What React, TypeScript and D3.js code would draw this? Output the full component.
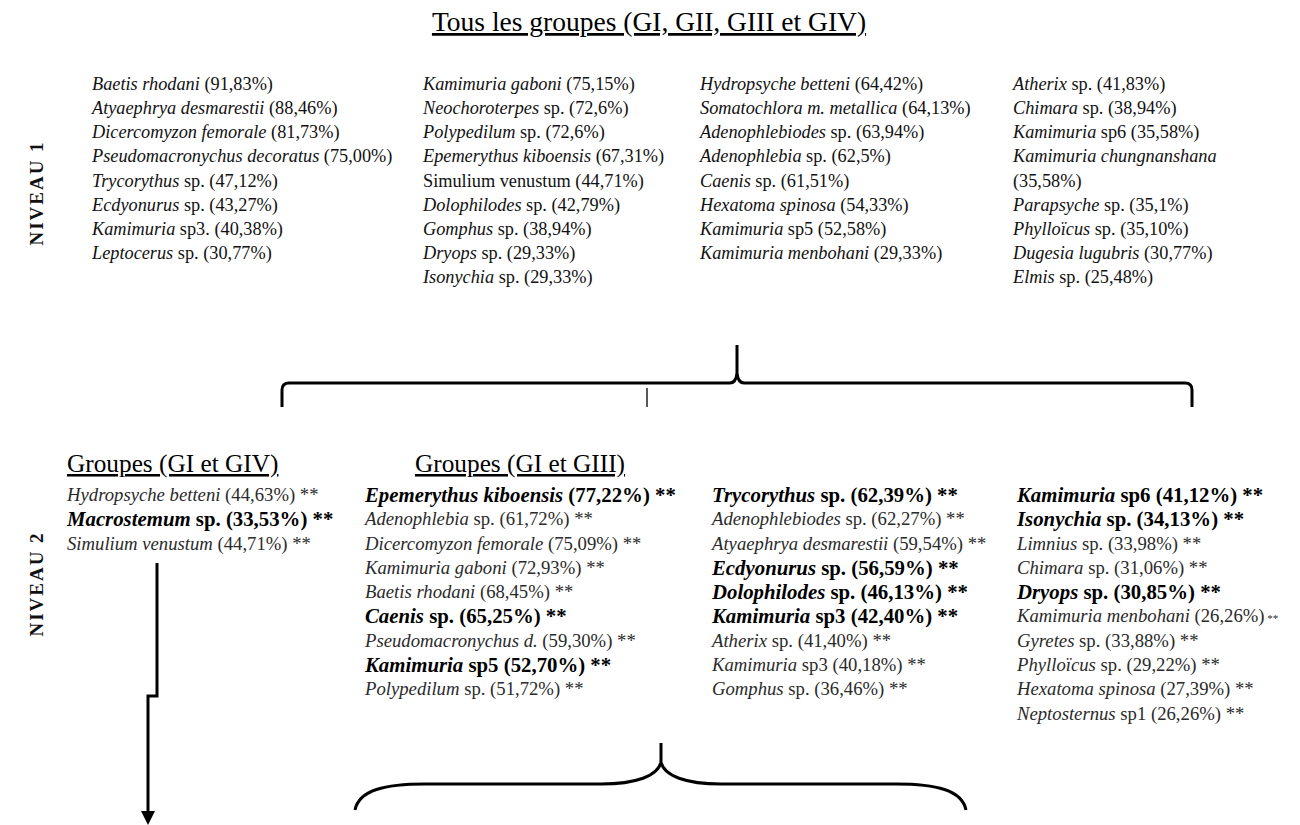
import React from 'react';
import * as d3 from 'd3';

// [italic part, upright part, percent]
const level1Col1 = [
  ['Baetis rhodani', '', '91,83'],
  ['Atyaephrya desmarestii', '', '88,46'],
  ['Dicercomyzon femorale', '', '81,73'],
  ['Pseudomacronychus decoratus', '', '75,00'],
  ['Trycorythus', ' sp.', '47,12'],
  ['Ecdyonurus', ' sp.', '43,27'],
  ['Kamimuria', ' sp3.', '40,38'],
  ['Leptocerus', ' sp.', '30,77'],
];
const level1Col2 = [
  ['Kamimuria gaboni', '', '75,15'],
  ['Neochoroterpes', ' sp.', '72,6'],
  ['Polypedilum', ' sp.', '72,6'],
  ['Epemerythus kiboensis', '', '67,31'],
  ['', 'Simulium venustum', '44,71'],
  ['Dolophilodes', ' sp.', '42,79'],
  ['Gomphus', ' sp.', '38,94'],
  ['Dryops', ' sp.', '29,33'],
  ['Isonychia', ' sp.', '29,33'],
];
const level1Col3 = [
  ['Hydropsyche betteni', '', '64,42'],
  ['Somatochlora m. metallica', '', '64,13'],
  ['Adenophlebiodes', ' sp.', '63,94'],
  ['Adenophlebia', ' sp.', '62,5'],
  ['Caenis', ' sp.', '61,51'],
  ['Hexatoma spinosa', '', '54,33'],
  ['Kamimuria', ' sp5', '52,58'],
  ['Kamimuria menbohani', '', '29,33'],
];
const level1Col4 = [
  ['Atherix', ' sp.', '41,83'],
  ['Chimara', ' sp.', '38,94'],
  ['Kamimuria', ' sp6', '35,58'],
  ['Kamimuria chungnanshana', '', ''],
  ['', '', '35,58'],
  ['Parapsyche', ' sp.', '35,1'],
  ['Phylloïcus', ' sp.', '35,10'],
  ['Dugesia lugubris', '', '30,77'],
  ['Elmis', ' sp.', '25,48'],
];

// [italic part, upright part, percent, bold]
const level2GIGIV = [
  ['Hydropsyche betteni', '', '44,63', false],
  ['Macrostemum', ' sp.', '33,53', true],
  ['Simulium venustum', '', '44,71', false],
];
const level2GIGIII = [
  ['Epemerythus kiboensis', '', '77,22', true],
  ['Adenophlebia', ' sp.', '61,72', false],
  ['Dicercomyzon femorale', '', '75,09', false],
  ['Kamimuria gaboni', '', '72,93', false],
  ['Baetis rhodani', '', '68,45', false],
  ['Caenis', ' sp.', '65,25', true],
  ['Pseudomacronychus d.', '', '59,30', false],
  ['Kamimuria', ' sp5', '52,70', true],
  ['Polypedilum', ' sp.', '51,72', false],
];
const level2Col3 = [
  ['Trycorythus', ' sp.', '62,39', true],
  ['Adenophlebiodes', ' sp.', '62,27', false],
  ['Atyaephrya desmarestii', '', '59,54', false],
  ['Ecdyonurus', ' sp.', '56,59', true],
  ['Dolophilodes', ' sp.', '46,13', true],
  ['Kamimuria', ' sp3', '42,40', true],
  ['Atherix', ' sp.', '41,40', false],
  ['Kamimuria', ' sp3', '40,18', false],
  ['Gomphus', ' sp.', '36,46', false],
];
const level2Col4 = [
  ['Kamimuria', ' sp6', '41,12', true],
  ['Isonychia', ' sp.', '34,13', true],
  ['Limnius', ' sp.', '33,98', false],
  ['Chimara', ' sp.', '31,06', false],
  ['Dryops', ' sp.', '30,85', true],
  ['Kamimuria menbohani', '', '26,26', false],
  ['Gyretes', ' sp.', '33,88', false],
  ['Phylloïcus', ' sp.', '29,22', false],
  ['Hexatoma spinosa', '', '27,39', false],
  ['Neptosternus', ' sp1', '26,26', false],
];

const title = 'Tous les groupes (GI, GII, GIII et GIV)';
const headingGIV = 'Groupes (GI et GIV)';
const headingGIII = 'Groupes (GI et GIII)';
const levelLabels = ['NIVEAU 1', 'NIVEAU 2'];
const smallStarRows = ['Kamimuria menbohani'];

const FONT = 'Liberation Serif, Times New Roman, serif';

// row index -> y centre
const y1 = d3.scaleLinear().domain([0, 1]).range([84, 108.2]);
const y2 = d3.scaleLinear().domain([0, 1]).range([495, 519.3]);
// level index -> label centre
const yLevel = d3.scaleLinear().domain([0, 1]).range([193, 584]);

function pctText(name: string, pct: string) {
  if (!pct) return '';
  return (name ? ' ' : '') + `(${pct}%)`;
}

function Level1Column({ rows, x }: { rows: string[][]; x: number }) {
  return (
    <g>
      {rows.map(([it, up, pct], i) => (
        <text key={i} x={x} y={y1(i)} dy="0.32em" fontSize={18.3} fontFamily={FONT} fill="#111">
          {it && <tspan fontStyle="italic">{it}</tspan>}
          {up && <tspan>{up}</tspan>}
          <tspan>{pctText(it + up, pct)}</tspan>
        </text>
      ))}
    </g>
  );
}

function Level2Column({ rows, x }: { rows: any[][]; x: number }) {
  return (
    <g>
      {rows.map(([it, up, pct, bold], i) => {
        const small = smallStarRows.includes(it);
        return (
          <text
            key={i}
            x={x}
            y={y2(i)}
            dy="0.32em"
            fontSize={bold ? 20.8 : 18.7}
            fontWeight={bold ? 'bold' : 'normal'}
            fontFamily={FONT}
            fill={bold ? '#000' : '#2a2a2a'}
          >
            {it && <tspan fontStyle="italic">{it}</tspan>}
            {up && <tspan>{up}</tspan>}
            <tspan>{pctText(it + up, pct)}</tspan>
            <tspan fontSize={small ? 11 : undefined}>{' **'}</tspan>
          </text>
        );
      })}
    </g>
  );
}

function topBracePath() {
  const p = d3.path();
  const l = 282, r = 1192, c = 737, h = 383, bot = 407, tip = 345, rad = 7;
  p.moveTo(l, bot);
  p.lineTo(l, h + rad);
  p.quadraticCurveTo(l, h, l + rad, h);
  p.lineTo(c - 7, h);
  p.quadraticCurveTo(c - 1, h, c, h - 10);
  p.lineTo(c, tip);
  p.moveTo(c, h - 10);
  p.quadraticCurveTo(c + 1, h, c + 7, h);
  p.lineTo(r - rad, h);
  p.quadraticCurveTo(r, h, r, h + rad);
  p.lineTo(r, bot);
  return p.toString();
}

function bottomBracePath() {
  const p = d3.path();
  const l = 355, r = 966, c = 661, h = 784, bot = 810, tip = 743, mid = 762;
  p.moveTo(l, bot);
  p.bezierCurveTo(l + 4, h + 6, l + 30, h, l + 70, h);
  p.lineTo(c - 60, h);
  p.bezierCurveTo(c - 25, h, c - 3, h - 8, c, mid);
  p.lineTo(c, tip);
  p.moveTo(c, mid);
  p.bezierCurveTo(c + 3, h - 8, c + 25, h, c + 60, h);
  p.lineTo(r - 70, h);
  p.bezierCurveTo(r - 30, h, r - 4, h + 6, r, bot);
  return p.toString();
}

function arrowPath() {
  const p = d3.path();
  p.moveTo(157, 563);
  p.lineTo(157, 696);
  p.lineTo(148, 696);
  p.lineTo(148, 812);
  return p.toString();
}

export default function App() {
  return (
    <svg
      width={1300}
      height={825}
      style={{ position: 'absolute', left: 0, top: 0, background: '#fff' }}
    >
      <rect width={1300} height={825} fill="#fff" />

      {/* title */}
      <text x={649} y={31} textAnchor="middle" fontSize={27.5} fontFamily={FONT} textDecoration="underline" fill="#000">
        {title}
      </text>

      {/* level labels, read bottom to top */}
      {levelLabels.map((lab, i) => (
        <text
          key={lab}
          transform={`translate(43,${yLevel(i)}) rotate(-90)`}
          textAnchor="middle"
          fontSize={19}
          fontWeight="bold"
          fontFamily={FONT}
          letterSpacing={2}
          fill="#111"
        >
          {lab}
        </text>
      ))}

      <Level1Column rows={level1Col1} x={92} />
      <Level1Column rows={level1Col2} x={423} />
      <Level1Column rows={level1Col3} x={700} />
      <Level1Column rows={level1Col4} x={1013} />

      <path d={topBracePath()} fill="none" stroke="#000" strokeWidth={3} />
      <line x1={647} x2={647} y1={388} y2={407} stroke="#000" strokeWidth={1.3} />

      <text x={67} y={472} fontSize={25.3} fontFamily={FONT} textDecoration="underline">{headingGIV}</text>
      <text x={415} y={472} fontSize={25.3} fontFamily={FONT} textDecoration="underline">{headingGIII}</text>

      <Level2Column rows={level2GIGIV} x={67} />
      <Level2Column rows={level2GIGIII} x={365} />
      <Level2Column rows={level2Col3} x={712} />
      <Level2Column rows={level2Col4} x={1017} />

      <path d={arrowPath()} fill="none" stroke="#000" strokeWidth={3} />
      <path d="M141,811 L155,811 L148,825 Z" fill="#000" />

      <path d={bottomBracePath()} fill="none" stroke="#000" strokeWidth={3} />
    </svg>
  );
}
